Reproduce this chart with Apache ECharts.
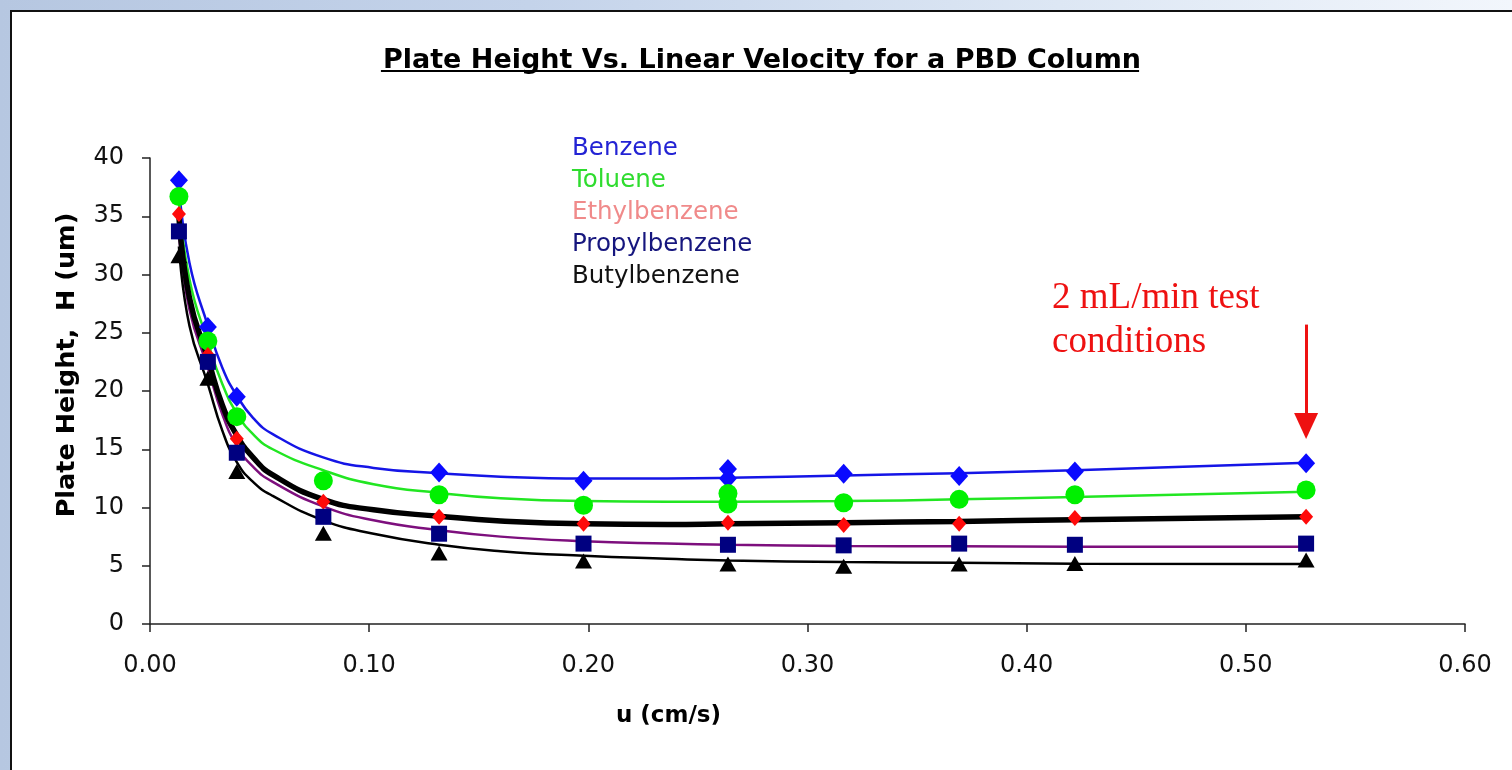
<!DOCTYPE html>
<html><head><meta charset="utf-8">
<script src="https://cdn.jsdelivr.net/npm/echarts@6/dist/echarts.min.js"></script>
<style>
html,body{margin:0;padding:0;width:1512px;height:770px;overflow:hidden;}
body{background:linear-gradient(90deg,#b6c7e1 0%,#c4d3ea 35%,#dde7f4 70%,#f2f6fc 100%);}
#chart{position:absolute;left:10px;top:10px;width:1502px;height:760px;box-sizing:border-box;border-top:2px solid #111;border-left:2px solid #111;background:#fff;}
</style></head><body><div id="chart"></div>
<script>
// ---- measured data (u in cm/s, H in um) ----
const velocity = [0.0132, 0.0264, 0.0396, 0.0791, 0.1319, 0.1978, 0.2637, 0.3165, 0.3692, 0.4220, 0.5275];
const benzene       = [38.1, 25.5, 19.5, null, 13.0, 12.3, 13.3, 12.9, 12.7, 13.1, 13.8];
const toluene       = [36.7, 24.3, 17.8, 12.3, 11.1, 10.2, 11.2, 10.4, 10.7, 11.1, 11.5];
const ethylbenzene  = [35.2, 23.1, 15.9, 10.5, 9.2, 8.6, 8.7, 8.5, 8.6, 9.1, 9.2];
const propylbenzene = [33.7, 22.5, 14.7, 9.2, 7.75, 6.9, 6.8, 6.75, 6.9, 6.8, 6.9];
const butylbenzene  = [31.6, 21.1, 13.1, 7.8, 6.1, 5.4, 5.15, 4.95, 5.15, 5.2, 5.5];
// repeated injections at 1 mL/min
const repeatVelocity = [0.2637];
const benzeneRepeat  = [12.5];
const tolueneRepeat  = [10.3];

// ---- trend curves ----
const fitVelocity   = [0.0132, 0.018, 0.0264, 0.033, 0.0396, 0.047, 0.056, 0.079, 0.102, 0.132, 0.160, 0.198, 0.236, 0.264, 0.317, 0.369, 0.422, 0.528];
const benzeneFit    = [37.6, 31.0, 25.6, 22.0, 19.6, 17.7, 16.3, 14.3, 13.4, 12.95, 12.65, 12.5, 12.5, 12.55, 12.75, 12.95, 13.2, 13.85];
const tolueneFit    = [36.4, 29.6, 24.2, 20.6, 18.1, 16.3, 15.0, 13.2, 12.0, 11.25, 10.8, 10.55, 10.5, 10.5, 10.55, 10.7, 10.9, 11.35];
const ethylFit      = [35.0, 28.0, 22.8, 18.8, 16.2, 14.3, 12.8, 10.7, 9.8, 9.25, 8.85, 8.6, 8.55, 8.6, 8.7, 8.8, 8.95, 9.2];
const propylFit     = [33.6, 27.0, 22.0, 18.0, 15.3, 13.5, 12.2, 10.1, 8.9, 8.05, 7.5, 7.1, 6.9, 6.8, 6.7, 6.67, 6.63, 6.64];
const butylFit      = [32.4, 25.6, 20.6, 16.6, 13.9, 12.2, 11.0, 8.9, 7.75, 6.8, 6.25, 5.85, 5.6, 5.45, 5.32, 5.25, 5.18, 5.15];

// ---- arrow annotation (2 mL/min point) ----
const arrowFrom = 25.7, arrowTo = 17.0;

const titleText = 'Plate Height Vs. Linear Velocity for a PBD Column';
const noteText = '2 mL/min test\nconditions';

function pairs(xs, ys) { return xs.map((x, i) => [x, ys[i]]).filter(p => p[1] != null); }

const FONT = '"DejaVu Sans", "Liberation Sans", Arial, sans-serif';
const chart = echarts.init(document.getElementById('chart'));
const W = chart.getWidth();

// title underline width
const cvs = document.createElement('canvas').getContext('2d');
cvs.font = 'bold 27px "DejaVu Sans"';
const tw = cvs.measureText(titleText).width;

const lineSeries = (name, data, color, width) => ({
  name: name, type: 'line', data: pairs(fitVelocity, data), smooth: 0.5,
  showSymbol: false, symbol: 'none', z: 2, silent: true,
  lineStyle: { color: color, width: width }
});
const dotSeries = (name, xs, data, symbol, size, color, extra) => Object.assign({
  name: name, type: 'scatter', data: pairs(xs, data), symbol: symbol, symbolSize: size,
  itemStyle: { color: color, opacity: 1 }, z: 4
}, extra || {});

chart.setOption({
  animation: false,
  backgroundColor: '#fff',
  title: {
    text: titleText, left: 'center', top: 29,
    textStyle: { fontFamily: FONT, fontSize: 27, fontWeight: 'bold', color: '#000', lineHeight: 30 }
  },
  legend: {
    orient: 'vertical', left: 550, top: 116, icon: 'none', itemWidth: 0, itemHeight: 10, itemGap: 0,
    selectedMode: false,
    data: [
      { name: 'Benzene', textStyle: { color: '#2323d4' } },
      { name: 'Toluene', textStyle: { color: '#2fdc2f' } },
      { name: 'Ethylbenzene', textStyle: { color: '#f08a8a' } },
      { name: 'Propylbenzene', textStyle: { color: '#16167e' } },
      { name: 'Butylbenzene', textStyle: { color: '#111' } }
    ],
    textStyle: { fontFamily: FONT, fontSize: 24.5, lineHeight: 32, padding: 0 }
  },
  grid: { left: 138, right: 47, top: 146, bottom: 146, containLabel: false, outerBoundsMode: 'none' },
  xAxis: {
    type: 'value', min: 0, max: 0.6, interval: 0.1,
    name: 'u (cm/s)', nameLocation: 'middle', nameGap: 81,
    nameTextStyle: { fontFamily: FONT, fontSize: 23, fontWeight: 'bold', color: '#000', padding: [0, 278, 0, 0] },
    axisLine: { lineStyle: { color: '#222', width: 1.5 } },
    axisTick: { show: true, length: 8, lineStyle: { color: '#222', width: 1.5 } },
    axisLabel: { margin: 30, fontFamily: FONT, fontSize: 24, color: '#111', formatter: v => v.toFixed(2) },
    splitLine: { show: false }
  },
  yAxis: {
    type: 'value', min: 0, max: 40, interval: 5,
    name: 'Plate Height,  H (um)', nameLocation: 'middle', nameGap: 70,
    nameTextStyle: { fontFamily: FONT, fontSize: 25.5, fontWeight: 'bold', color: '#000', padding: [0, 0, 0, 52] },
    axisLine: { show: true, lineStyle: { color: '#222', width: 1.5 } },
    axisTick: { show: true, length: 8, lineStyle: { color: '#222', width: 1.5 } },
    axisLabel: { margin: 26, fontFamily: FONT, fontSize: 24, color: '#111' },
    splitLine: { show: false }
  },
  graphic: [
    { type: 'line', silent: true, shape: { x1: W / 2 - tw / 2 - 2, y1: 59, x2: W / 2 + tw / 2 - 2, y2: 59 },
      style: { stroke: '#000', lineWidth: 2 } },
    { type: 'text', left: 1040, top: 264, silent: true,
      style: { text: noteText, font: '37px "Liberation Serif", "Times New Roman", serif', fill: '#ee1111', lineHeight: 44 } }
  ],
  series: [
    lineSeries('Benzene fit', benzeneFit, '#1515e6', 2.5),
    lineSeries('Toluene fit', tolueneFit, '#22e622', 2.5),
    lineSeries('Propylbenzene fit', propylFit, '#7d0f7d', 2.5),
    lineSeries('Butylbenzene fit', butylFit, '#000', 2.5),
    lineSeries('Ethylbenzene fit', ethylFit, '#000', 5.5),
    dotSeries('Benzene', velocity, benzene, 'diamond', [18, 20], '#0a0aff', {
      markLine: {
        silent: true, symbol: ['none', 'triangle'], symbolSize: [24, 26], label: { show: false },
        lineStyle: { color: '#ee1111', width: 3, type: 'solid' },
        data: [[{ coord: [velocity[velocity.length - 1], arrowFrom] }, { coord: [velocity[velocity.length - 1], arrowTo] }]]
      }
    }),
    dotSeries('Benzene repeat', repeatVelocity, benzeneRepeat, 'diamond', [18, 20], '#0a0aff'),
    dotSeries('Toluene', velocity, toluene, 'circle', 19, '#00f000'),
    dotSeries('Toluene repeat', repeatVelocity, tolueneRepeat, 'circle', 19, '#00f000'),
    dotSeries('Ethylbenzene', velocity, ethylbenzene, 'diamond', [14, 16], '#ff0a0a'),
    dotSeries('Propylbenzene', velocity, propylbenzene, 'rect', 16, '#000080'),
    dotSeries('Butylbenzene', velocity, butylbenzene, 'triangle', [17, 15], '#000')
  ]
});
</script></body></html>
